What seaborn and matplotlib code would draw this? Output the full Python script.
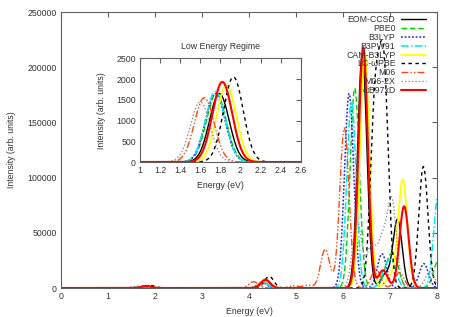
import numpy as np
import pandas as pd
import matplotlib
matplotlib.use("Agg")
import matplotlib.pyplot as plt
import seaborn as sns

# ---------------- data: excitation energies (eV) and peak intensities ----------------
methods = ["EOM-CCSD", "PBE0", "B3LYP", "B3PW91", "CAM-B3LYP",
           "LC-\u03c9PBE", "M06", "M06-2X", "\u03c9B97xD"]

eom_e = [1.79, 4.35, 6.41, 6.90, 7.16]
eom_i = [1650, 7000, 212000, 12000, 62000]
pbe0_e = [1.76, 4.30, 6.25, 6.95, 7.10, 8.02]
pbe0_i = [1650, 6000, 181000, 18000, 24000, 24000]
b3lyp_e = [1.75, 4.28, 6.13, 6.83, 7.72]
b3lyp_i = [1650, 5000, 176000, 31000, 22000]
b3pw91_e = [1.75, 4.30, 6.18, 6.90, 7.05, 8.03]
b3pw91_i = [1700, 5500, 169000, 14000, 20000, 86000]
cam_e = [1.86, 4.36, 6.46, 7.00, 7.27]
cam_i = [1850, 8000, 214000, 10000, 98000]
lc_e = [1.93, 4.43, 6.68, 6.87, 7.71]
lc_i = [2050, 10500, 160000, 190000, 110000]
m06_e = [1.64, 4.10, 4.95, 5.25, 5.62, 6.03, 6.70, 7.20]
m06_i = [1550, 5700, 2000, 2500, 35000, 145000, 17000, 14000]
m062x_e = [1.60, 4.38, 6.30, 6.60, 6.83, 7.04, 7.85]
m062x_i = [1450, 6000, 60000, 37000, 40000, 78000, 15000]
wb_e = [1.82, 4.35, 6.43, 6.85, 7.30]
wb_i = [1930, 7500, 218000, 16000, 74000]

peak_energies = [eom_e, pbe0_e, b3lyp_e, b3pw91_e, cam_e, lc_e, m06_e, m062x_e, wb_e]
peak_intensities = [eom_i, pbe0_i, b3lyp_i, b3pw91_i, cam_i, lc_i, m06_i, m062x_i, wb_i]

colors = ["#000000", "#00d000", "#2020ff", "#00e8f0", "#ffff00",
          "#000000", "#ff4a10", "#909090", "#ff0000"]
styles = ["-", (0, (4, 2)), (0, (1.2, 1.2)), (0, (5, 1.5, 1, 1.5)), "-",
          (0, (2.5, 2.5)), (0, (5, 1.5, 1, 1.5, 1, 1.5)), (0, (1, 1.5)), "-"]
widths = [1.0, 1.0, 1.1, 1.1, 1.3, 1.0, 1.0, 1.0, 1.5]

broadening = 0.098  # gaussian broadening (eV)

grid = np.linspace(0, 8, 2001)
frames = []
for name, es, hs in zip(methods, peak_energies, peak_intensities):
    spec = np.zeros_like(grid)
    for e, h in zip(es, hs):
        spec += h * np.exp(-0.5 * ((grid - e) / broadening) ** 2)
    frames.append(pd.DataFrame({"Energy": grid, "Intensity": spec, "Method": name}))
df = pd.concat(frames, ignore_index=True)

# ---------------- figure ----------------
sns.set_style("white")
plt.rcParams["font.family"] = ["Liberation Sans", "DejaVu Sans"]
fs = 6.3
text_col = "#333333"
frame_col = "#606060"

fig = plt.figure(figsize=(4.52, 3.17), dpi=100)
ax = fig.add_axes([61 / 452, 1 - 288 / 317, (437 - 61) / 452, (288 - 12) / 317])


def style_axes(a):
    for s in a.spines.values():
        s.set_color(frame_col)
        s.set_linewidth(0.8)
    a.tick_params(direction="in", length=3.5, width=0.8, color=frame_col,
                  labelsize=fs, labelcolor=text_col, top=True, right=True, pad=3)


for name, c, ls, lw in zip(methods, colors, styles, widths):
    sub = df[df["Method"] == name]
    sns.lineplot(data=sub, x="Energy", y="Intensity", ax=ax, color=c,
                 linestyle=ls, linewidth=lw, label=name, estimator=None, sort=False)

ax.set_xlim(0, 8)
ax.set_ylim(0, 250000)
ax.set_xticks(range(0, 9))
ax.set_yticks(range(0, 250001, 50000))
ax.set_xlabel("Energy (eV)", fontsize=fs, color=text_col, labelpad=4.5)
ax.set_ylabel("Intensity (arb. units)", fontsize=fs, color=text_col, labelpad=8)
style_axes(ax)

leg = ax.legend(loc="upper right", bbox_to_anchor=(0.985, 1.007), frameon=False,
                fontsize=fs, markerfirst=False, handlelength=2.9, handletextpad=0.6,
                labelspacing=-0.02, borderaxespad=0.2)
for t in leg.get_texts():
    t.set_color(text_col)

# ---------------- inset ----------------
ins = fig.add_axes([140 / 452, 1 - 162 / 317, (300.7 - 140) / 452, (162 - 58.3) / 317])
ins.set_facecolor("white")
for name, c, ls, lw in zip(methods, colors, styles, widths):
    sub = df[(df["Method"] == name) & (df["Energy"] >= 0.9) & (df["Energy"] <= 2.7)]
    sns.lineplot(data=sub, x="Energy", y="Intensity", ax=ins, color=c,
                 linestyle=ls, linewidth=lw, legend=False, estimator=None, sort=False)
ins.set_xlim(1, 2.6)
ins.set_ylim(0, 2500)
ins.set_xticks(np.round(np.arange(1.0, 2.61, 0.2), 1))
ins.set_xticklabels(["1", "1.2", "1.4", "1.6", "1.8", "2", "2.2", "2.4", "2.6"])
ins.set_yticks(range(0, 2501, 500))
ins.set_xlabel("Energy (eV)", fontsize=fs, color=text_col, labelpad=4)
ins.set_ylabel("Intensity (arb. units)", fontsize=fs, color=text_col, labelpad=7)
ins.set_title("Low Energy Regime", fontsize=fs, color=text_col, pad=7)
style_axes(ins)

fig.savefig("out.png", dpi=100)
